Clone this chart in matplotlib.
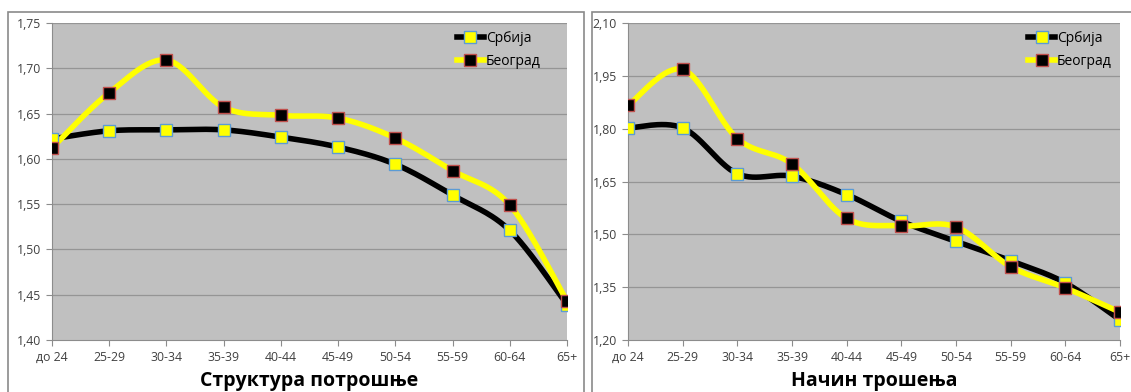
import numpy as np
import matplotlib
matplotlib.use("Agg")
import matplotlib.pyplot as plt
from matplotlib.patches import Rectangle
from matplotlib.lines import Line2D

plt.rcParams['font.family'] = ['Open Sans', 'DejaVu Sans']

categories = ["до 24", "25-29", "30-34", "35-39", "40-44", "45-49", "50-54", "55-59", "60-64", "65+"]

# Left chart: Структура потрошње
left_srbija = [1.622, 1.631, 1.632, 1.632, 1.624, 1.613, 1.594, 1.560, 1.521, 1.439]
left_beograd = [1.612, 1.673, 1.709, 1.657, 1.648, 1.645, 1.623, 1.587, 1.549, 1.443]
left_title = "Структура потрошње"
left_yticks = [1.40, 1.45, 1.50, 1.55, 1.60, 1.65, 1.70, 1.75]

# Right chart: Начин трошења
right_srbija = [1.802, 1.802, 1.672, 1.665, 1.613, 1.537, 1.480, 1.425, 1.362, 1.257]
right_beograd = [1.866, 1.968, 1.772, 1.700, 1.545, 1.524, 1.521, 1.408, 1.348, 1.279]
right_title = "Начин трошења"
right_yticks = [1.20, 1.35, 1.50, 1.65, 1.80, 1.95, 2.10]

series_names = ["Србија", "Београд"]

W, H = 1131, 392
fig = plt.figure(figsize=(W / 100, H / 100), dpi=100)


def smooth(x, y, n=30):
    x = np.asarray(x, float)
    y = np.asarray(y, float)
    pts = np.column_stack([x, y])
    out = [pts[0]]
    m = len(pts)
    for i in range(m - 1):
        p0 = pts[i - 1] if i > 0 else pts[i]
        p1 = pts[i]
        p2 = pts[i + 1]
        p3 = pts[i + 2] if i + 2 < m else pts[i + 1]
        c1 = p1 + (p2 - p0) / 6.0
        c2 = p2 - (p3 - p1) / 6.0
        t = np.linspace(0, 1, n)[1:, None]
        b = ((1 - t) ** 3) * p1 + 3 * ((1 - t) ** 2) * t * c1 + 3 * (1 - t) * t ** 2 * c2 + t ** 3 * p2
        out.extend(b)
    out = np.array(out)
    return out[:, 0], out[:, 1]


def px_rect(x0, y0, x1, y1):
    return [x0 / W, 1 - y1 / H, (x1 - x0) / W, (y1 - y0) / H]


def draw(ax, srb, bgd, yticks, title, frame, legend_anchor):
    fx0, fy0, fx1, fy1 = frame
    fig.patches.append(Rectangle((fx0 / W, 1 - fy1 / H), (fx1 - fx0) / W, (fy1 - fy0) / H,
                                 transform=fig.transFigure, fill=False,
                                 edgecolor="#8a8a8a", linewidth=1.2, zorder=0))
    x = np.arange(len(categories))
    ax.set_facecolor("#c0c0c0")
    for yt in yticks[1:]:
        ax.axhline(yt, color="#959595", linewidth=0.9, zorder=1)
    xs, ys = smooth(x, srb)
    ax.plot(xs, ys, color="black", linewidth=4.0, zorder=3, solid_capstyle="round")
    xb, yb = smooth(x, bgd)
    ax.plot(xb, yb, color="#ffff00", linewidth=4.0, zorder=4, solid_capstyle="round")
    ax.plot(x, srb, linestyle="none", marker="s", markersize=8,
            markerfacecolor="#ffff00", markeredgecolor="#5b9bd5", markeredgewidth=1.0, zorder=5)
    ax.plot(x, bgd, linestyle="none", marker="s", markersize=8,
            markerfacecolor="black", markeredgecolor="#c0504d", markeredgewidth=1.0, zorder=6)
    ax.set_xlim(0, len(categories) - 1)
    ax.set_ylim(yticks[0], yticks[-1])
    ax.set_yticks(yticks)
    ax.set_yticklabels([f"{v:.2f}".replace(".", ",") for v in yticks], fontsize=8.8, color="#404040")
    ax.set_xticks(x)
    ax.set_xticklabels(categories, fontsize=8.8, color="#404040")
    ax.tick_params(axis="both", length=4, color="#8c8c8c", width=0.8, pad=4)
    for s in ["top", "right"]:
        ax.spines[s].set_visible(False)
    ax.spines["left"].set_color("#8c8c8c")
    ax.spines["bottom"].set_color("#8c8c8c")
    ax.set_xlabel(title, fontsize=14, fontweight="bold", color="black", labelpad=5)
    handles = [
        Line2D([], [], color="black", linewidth=4.0, marker="s", markersize=8,
               markerfacecolor="#ffff00", markeredgecolor="#5b9bd5"),
        Line2D([], [], color="#ffff00", linewidth=4.0, marker="s", markersize=8,
               markerfacecolor="black", markeredgecolor="#c0504d"),
    ]
    ax.legend(handles, series_names, loc="upper right", frameon=False, fontsize=10,
              handlelength=2.0, handletextpad=0.1, labelspacing=0.55,
              borderaxespad=0.2, bbox_to_anchor=legend_anchor)


ax1 = fig.add_axes(px_rect(52, 23, 567, 340))
draw(ax1, left_srbija, left_beograd, left_yticks, left_title, (8, 12, 584, 400), (0.965, 1.0))
ax2 = fig.add_axes(px_rect(628, 23, 1120, 340))
draw(ax2, right_srbija, right_beograd, right_yticks, right_title, (592, 12, 1140, 400), (1.0, 1.0))

fig.savefig("out.png", dpi=100, facecolor="white")
